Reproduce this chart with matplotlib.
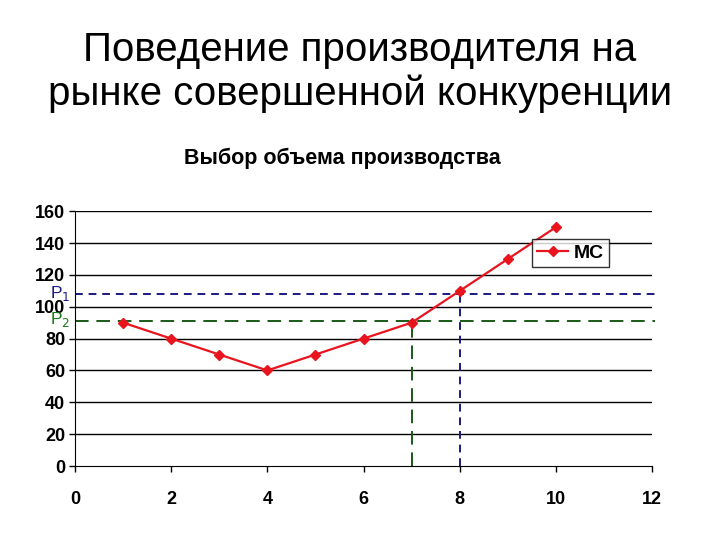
import numpy as np
import matplotlib.pyplot as plt

plt.rcParams['font.family'] = ['Liberation Sans', 'DejaVu Sans']

# data
q = [1, 2, 3, 4, 5, 6, 7, 8, 9, 10]
mc = [90, 80, 70, 60, 70, 80, 90, 110, 130, 150]
p1, q1 = 108, 8
p2, q2 = 91, 7

title = 'Поведение производителя на\nрынке совершенной конкуренции'
subtitle = 'Выбор объема производства'

fig = plt.figure(figsize=(7.2, 5.4), dpi=100)
ax = fig.add_axes([0.104, 0.137, 0.802, 0.472])

fig.text(0.5, 0.867, title, ha='center', va='center', fontsize=29,
         linespacing=1.2)
fig.text(0.475, 0.707, subtitle, ha='center', va='center', fontsize=15.5,
         fontweight='bold')

# grid
for y in range(20, 161, 20):
    ax.axhline(y, color='black', lw=1, zorder=1)

# price levels
ax.plot([0, 12.05], [p1, p1], color='#1a1a80', lw=1.4, ls=(0, (4, 3)),
        zorder=2, clip_on=False)
ax.plot([q1, q1], [0, p1], color='#1a1a80', lw=1.4, ls=(0, (4, 3)), zorder=2)
ax.plot([0, 12.05], [p2, p2], color='#1a5a1a', lw=1.4, ls=(0, (7, 4)),
        zorder=2, clip_on=False)
ax.plot([q2, q2], [0, p2], color='#1a5a1a', lw=1.4, ls=(0, (7, 4)), zorder=2)

ax.plot(q, mc, color='#e8141e', lw=1.6, marker='D', markersize=5,
        label='MC', zorder=3)

ax.text(-0.1, p1, 'P$_1$', color='#1a1a80', fontsize=12.5, ha='right',
        va='center')
ax.text(-0.1, p2 + 1, 'P$_2$', color='#1a7a1a', fontsize=12.5, ha='right',
        va='center')

ax.set_xlim(0, 12)
ax.set_ylim(0, 160)
ax.set_xticks(range(0, 13, 2))
ax.set_yticks(range(0, 161, 20))
for s in ['top', 'right']:
    ax.spines[s].set_visible(False)
ax.tick_params(axis='both', labelsize=13, length=4, width=1)
ax.tick_params(axis='x', pad=14)
ax.tick_params(axis='y', pad=3)
for lab in ax.get_xticklabels() + ax.get_yticklabels():
    lab.set_fontweight('bold')

leg = ax.legend(loc='upper right', bbox_to_anchor=(0.925, 0.89),
                frameon=True, fancybox=False, prop={'weight': 'bold', 'size': 14},
                handlelength=1.6, handletextpad=0.3, borderpad=0.25,
                borderaxespad=0)
leg.get_frame().set_edgecolor('black')
leg.get_frame().set_linewidth(1)

fig.savefig('out.png', dpi=100)
